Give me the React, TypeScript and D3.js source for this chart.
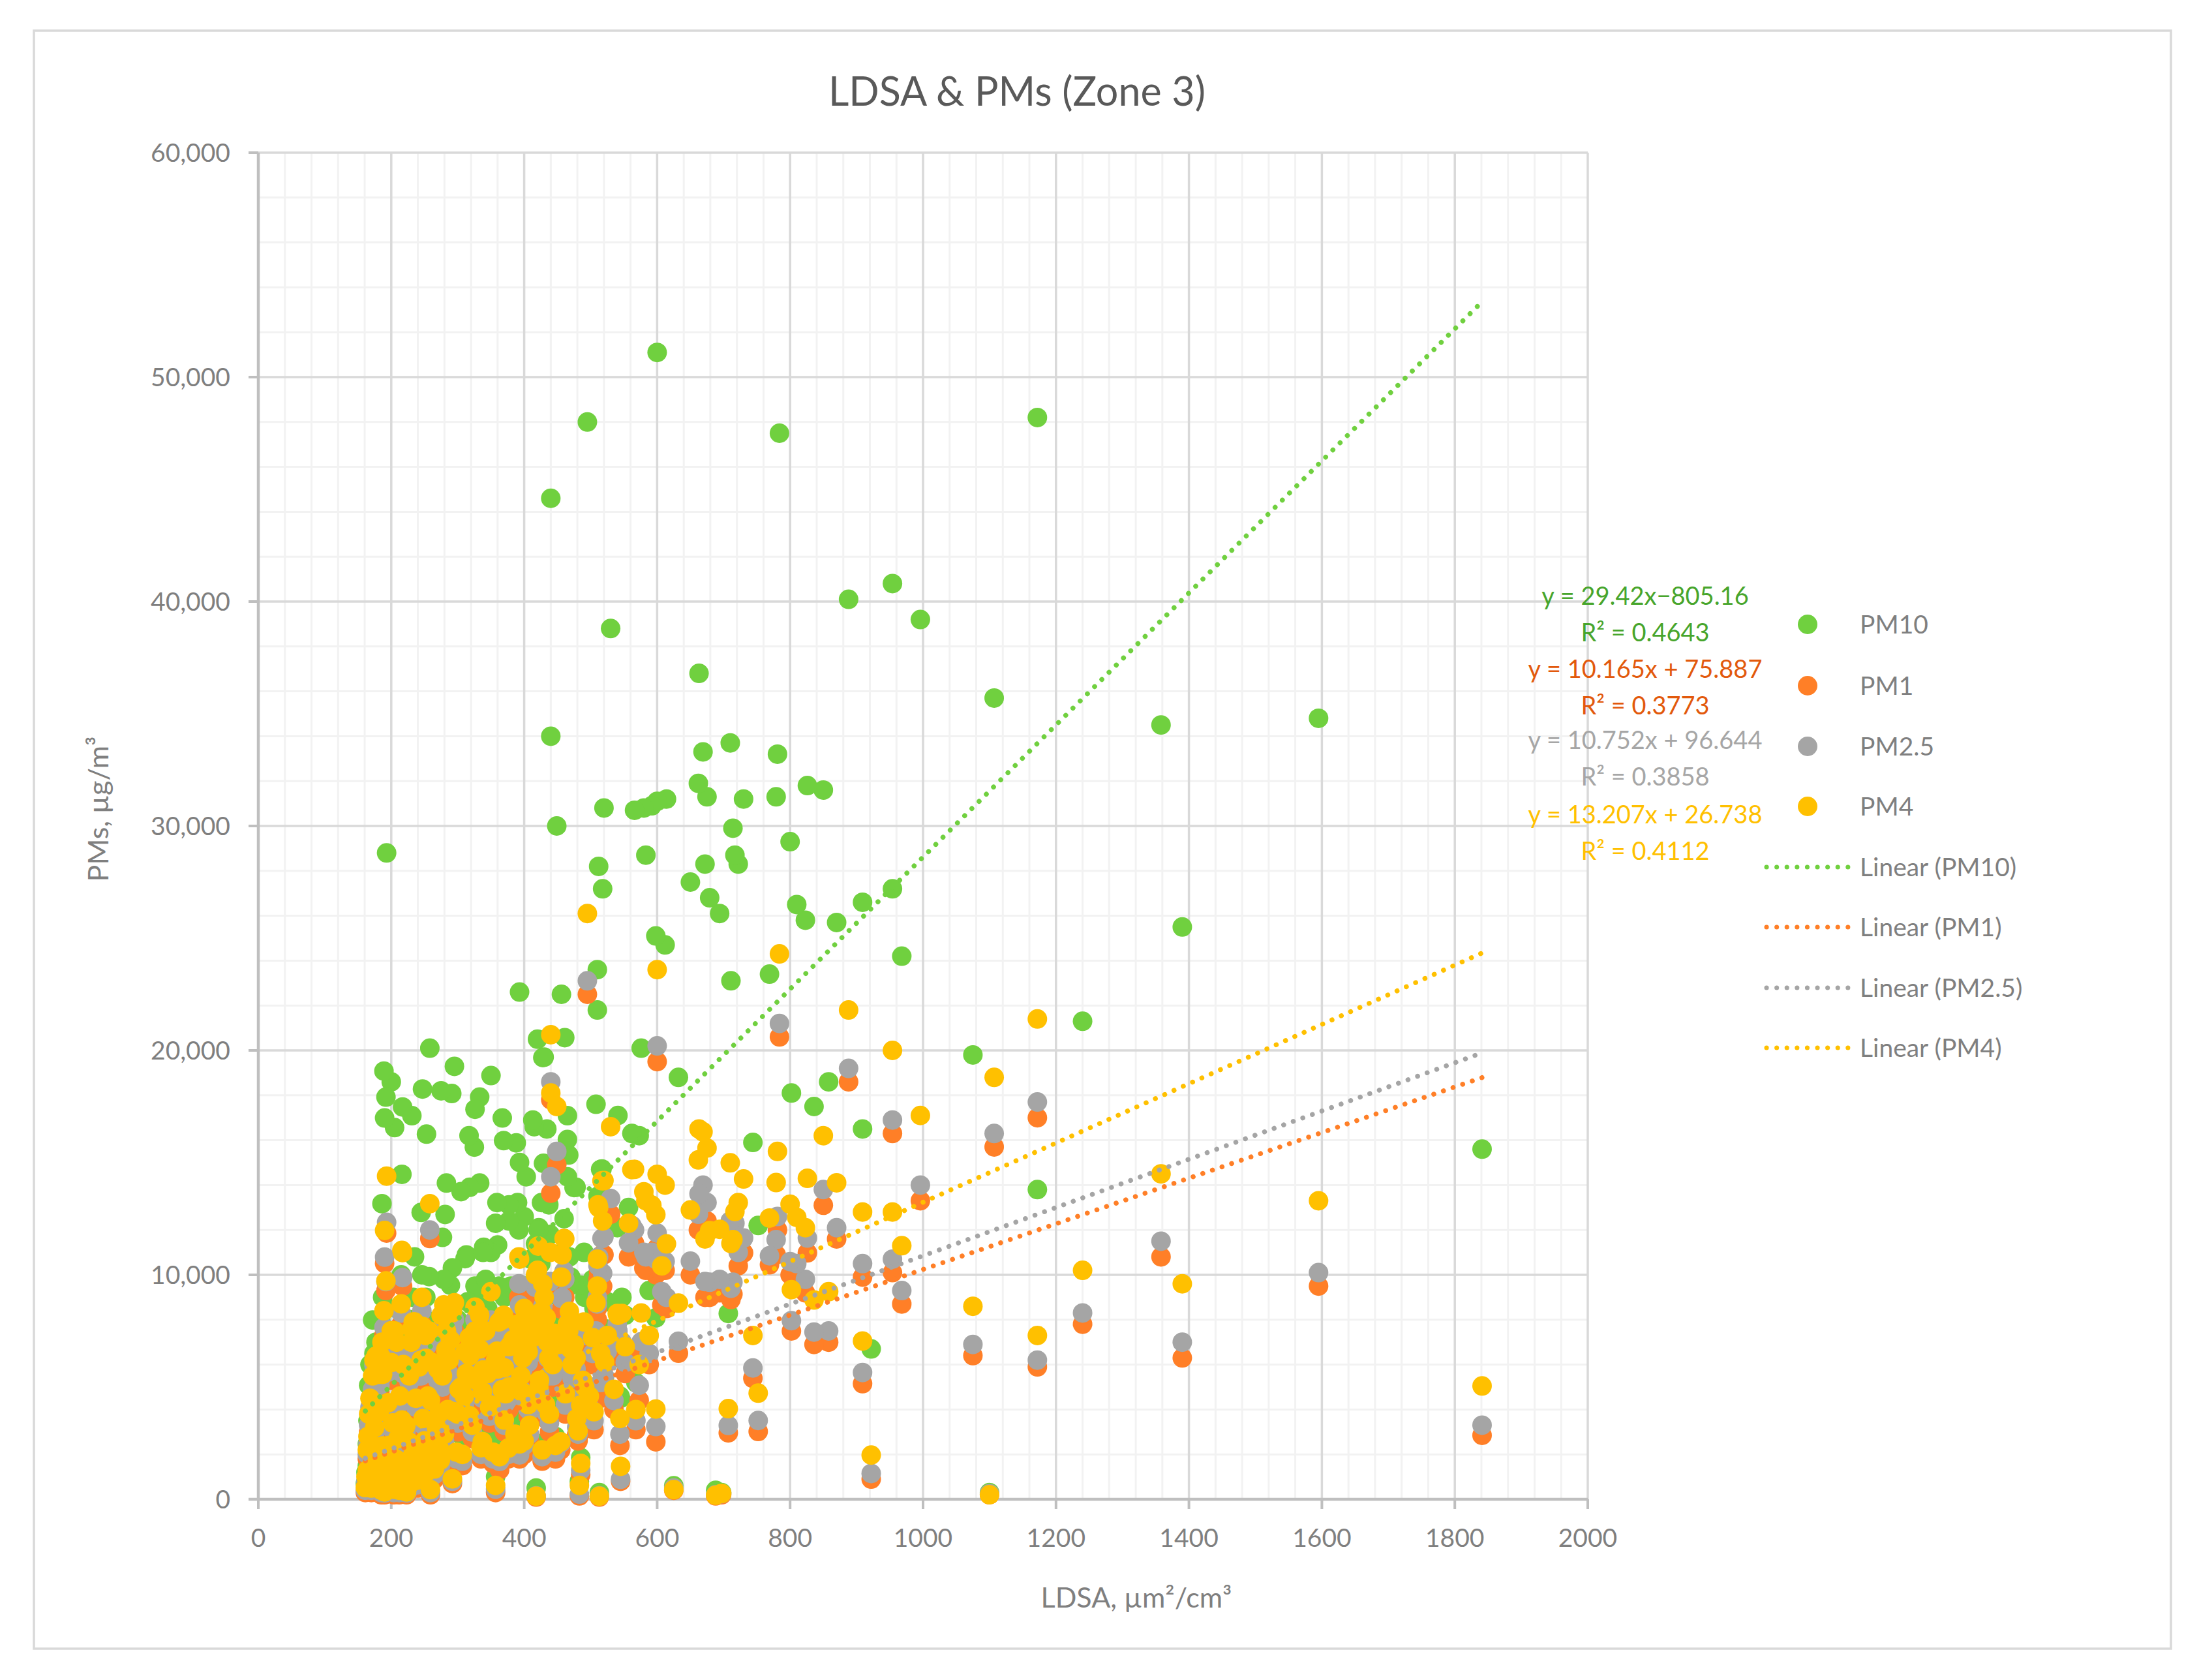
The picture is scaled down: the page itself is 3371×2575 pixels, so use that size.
import React from 'react';
import * as d3 from 'd3';

// LDSA (µm²/cm³) per sample
const LDSA = [
  // right-hand, sparse
  1841, 1595, 1390, 1358, 1240, 1172, 1172, 1107, 1100, 1075,
  996, 968, 954, 954, 922, 909, 909, 888, 870, 858,
  850, 836, 826, 823, 810, 800, 802,
  // 600-800
  784, 781, 779, 769, 752, 744, 730, 722, 717, 714,
  710, 711, 707, 697, 694, 688, 679, 675, 672, 669,
  663, 662, 650, 632, 625, 614, 612, 600, 600, 598,
  598, 607,
  // 500-600
  592, 583, 580, 576, 573, 566, 562, 557, 547, 545,
  544, 541, 540, 530, 521, 520, 518, 517, 515, 513,
  512, 511, 510, 510, 508, 505, 495,
  // 400-500
  491, 490, 485, 485, 483, 481, 478, 475, 470, 468,
  468, 467, 465, 465, 465, 461, 460, 459, 457, 456,
  455, 449, 445, 440, 440, 439, 437, 435, 434, 432,
  430, 429, 428, 426, 425, 422, 421, 420, 418, 417,
  415, 413, 410, 406, 406, 403, 400, 400,
  // 300-400
  398, 396, 393, 393, 392, 390, 388, 380, 377, 377,
  376, 370, 370, 369, 367, 367, 363, 360, 359, 357,
  357, 355, 350, 350, 345, 339, 338, 337, 337, 333,
  333, 331, 326, 326, 325, 320, 318, 318, 317, 313,
  311, 310, 305, 300,
  // 160-300
  298, 295, 292, 292, 291, 289, 285, 283, 282, 281,
  279, 277, 275, 272, 272, 268, 262, 259, 259, 258,
  257, 253, 252, 252, 250, 249, 247, 246, 245, 243,
  239, 235, 235, 233, 231, 230, 228, 226, 223, 220,
  217, 216, 216, 215, 213, 212, 207, 205, 205, 200,
  200, 198, 193, 193, 192, 190, 190, 189, 187, 187,
  186, 184, 183, 180, 177, 177, 174, 172, 171, 170,
  166, 164, 164, 162, 161,
  // dense low cluster
  165, 168, 175, 178, 182, 185, 188, 195, 197, 202,
  204, 208, 210, 214, 218, 222, 225, 227, 232, 237,
  240, 242, 248, 251, 255, 261, 265, 270, 274, 280,
  287, 294, 302, 307, 315, 322, 328, 335, 342, 348,
  353, 362, 372, 383, 386, 395, 402, 408, 412, 423,
  427, 433, 438, 443, 447, 452, 462, 472, 479, 488,
  498, 503, 525, 535, 552, 568, 588,
];

const PM10 = [
  15600, 34800, 25500, 34500, 21300, 48200, 13800, 35700, 300, 19800,
  39200, 24200, 40800, 27200, 6700, 26600, 16500, 40100, 25700, 18600,
  31600, 17500, 31800, 25800, 26500, 29300, 18100,
  47500, 33200, 31300, 23400, 12200, 15900, 31200, 28300, 28700, 29900,
  33700, 23100, 8280, 300, 26100, 400, 26800, 31300, 28300, 33300,
  36800, 31900, 27500, 18800, 600, 31200, 24700, 51100, 31100, 25100,
  8080, 11200,
  30900, 28700, 30800, 20100, 16200, 30700, 16300, 13000, 9000, 4500,
  4600, 17100, 12100, 38800, 7600, 30800, 27200, 14720, 14700, 300,
  28200, 13500, 23600, 21800, 17600, 8500, 48000,
  9000, 11000, 9540, 1860, 800, 6200, 13900, 13890, 9900, 9500,
  10800, 15340, 17090, 16030, 14370, 20570, 12500, 7500, 11000, 22500,
  4200, 30000, 9600, 44600, 34000, 11800, 13120, 8000, 16500, 5000,
  19700, 14970, 19680, 13220, 10500, 12100, 12000, 20500, 500, 11380,
  16600, 16900, 10700, 7500, 5000, 14370, 12590, 7000,
  8200, 5500, 22600, 15010, 12000, 13220, 15880, 9500, 13120, 12400,
  4000, 7000, 9000, 15980, 16990, 6500, 2500, 11330, 13220, 12300,
  1000, 7800, 18880, 11000, 8500, 11230, 11000, 7000, 6000, 17920,
  14090, 9000, 17380, 9500, 15690, 7500, 13900, 5000, 16200, 10890,
  10720, 6500, 13710, 8000,
  3800, 19290, 2000, 10310, 18080, 9540, 5500, 14090, 8000, 12690,
  9800, 11670, 18200, 5000, 3000, 4500, 2800, 900, 6000, 20100,
  9920, 16270, 8000, 9000, 3500, 2500, 18280, 10000, 12780, 1400,
  1800, 10800, 2200, 9000, 17090, 8000, 1000, 3200, 500, 1600,
  17480, 14480, 5000, 10000, 6000, 700, 2500, 16560, 1200, 18600,
  7000, 900, 28800, 1500, 17920, 16990, 600, 19080, 9000, 3000,
  13170, 8000, 6500, 1000, 7000, 2200, 6500, 7990, 4500, 800,
  5080, 2470, 1500, 1200, 700,
  3500, 6000, 4000, 1200, 4500, 500, 2000, 5500, 3000, 4000,
  600, 8500, 3500, 1800, 7500, 4200, 900, 6500, 2500, 5500,
  1200, 7000, 4200, 1500, 5200, 7500, 1800, 6800, 2200, 3500,
  7200, 4600, 6000, 2800, 8800, 4200, 6200, 3200, 9800, 5200,
  3000, 9500, 5800, 8000, 3600, 7500, 9500, 3800, 8800, 6200,
  2500, 9000, 4500, 7000, 2800, 8200, 5800, 7800, 4600, 7200,
  6000, 9800, 8800, 6300, 8200, 5200, 9300,
];

const PM1 = [
  2850, 9500, 6300, 10800, 7800, 17000, 5900, 15700, 200, 6400,
  13300, 8700, 16300, 10100, 900, 9900, 5150, 18600, 11600, 7000,
  13100, 6900, 10980, 9200, 9900, 10000, 7500,
  20600, 12000, 10900, 10450, 3020, 5390, 10980, 10400, 11300, 9140,
  11900, 8900, 2960, 200, 9200, 150, 9000, 12400, 9000, 13200,
  12800, 12000, 10000, 6510, 400, 8500, 10200, 19500, 11200, 10000,
  2560, 8660,
  10300, 10200, 10300, 6430, 4410, 11400, 11520, 10800, 6430, 800,
  2400, 6900, 7300, 12700, 4950, 10900, 9490, 10900, 4500, 100,
  10100, 9800, 8500, 8000, 7020, 3100, 22500,
  4200, 6800, 3000, 1100, 150, 2600, 5300, 5400, 5700, 5200,
  7500, 6000, 6500, 5800, 6100, 9000, 9770, 5600, 8500, 8470,
  2200, 14900, 6200, 17800, 13640, 9200, 5000, 5800, 6000, 3600,
  7500, 6700, 8000, 7800, 6500, 4000, 8900, 9000, 100, 9050,
  7000, 6600, 3600, 5600, 3700, 6200, 7500, 2000,
  5300, 4300, 8000, 1800, 9000, 6500, 6000, 5800, 5500, 4000,
  1800, 3000, 5200, 7000, 7300, 4000, 1310, 4600, 5600, 5000,
  300, 5000, 7300, 3500, 4700, 4200, 5100, 2200, 4200, 6700,
  5400, 6800, 6300, 7500, 5800, 4500, 5300, 3200, 6000, 4600,
  5900, 3800, 4300, 3000,
  1600, 7500, 700, 7000, 7000, 6000, 3300, 6700, 5800, 5000,
  7600, 4500, 7000, 3000, 1700, 2500, 1500, 200, 3600, 11620,
  6500, 6200, 5600, 6600, 2000, 1500, 6500, 7800, 5000, 700,
  1000, 6800, 1200, 6500, 6400, 6200, 400, 2000, 200, 800,
  9490, 6000, 3000, 7800, 4000, 200, 1500, 6200, 500, 6500,
  5300, 300, 11860, 900, 9300, 10510, 200, 7300, 5200, 2000,
  6000, 5600, 4790, 400, 5400, 1500, 5600, 4500, 3500, 300,
  3000, 1800, 1000, 600, 300,
  2300, 3800, 2600, 500, 3200, 200, 1200, 3600, 1900, 2800,
  200, 6200, 2100, 1000, 5200, 2700, 300, 4800, 1500, 3800,
  500, 5100, 3000, 800, 3900, 5200, 900, 4900, 1300, 2300,
  5200, 3200, 4100, 1500, 5500, 2700, 4500, 1800, 6400, 3400,
  1600, 6800, 3900, 5900, 2300, 4500, 6900, 2600, 6000, 4400,
  1700, 6900, 3000, 5000, 1800, 5800, 3800, 4900, 2900, 4300,
  3700, 6000, 6100, 4000, 5600, 3100, 6000,
];

const PM25 = [
  3300, 10100, 7000, 11500, 8300, 17700, 6200, 16300, 250, 6900,
  14000, 9300, 16900, 10700, 1150, 10500, 5650, 19200, 12100, 7500,
  13800, 7450, 11640, 9800, 10500, 10590, 7960,
  21200, 12600, 11570, 10850, 3510, 5850, 11640, 11000, 12300, 9670,
  12400, 9400, 3290, 250, 9800, 200, 9670, 13220, 9700, 14000,
  13610, 12700, 10610, 7040, 500, 9000, 10600, 20200, 11860, 10700,
  3240, 9250,
  11000, 10800, 11000, 7020, 5080, 12000, 12200, 11430, 7020, 890,
  2900, 7500, 7800, 13400, 5470, 11700, 10070, 11620, 5200, 150,
  10800, 10400, 9000, 8700, 7500, 3500, 23100,
  4700, 7300, 3500, 1300, 230, 2900, 5800, 6000, 6100, 5760,
  8000, 6500, 7000, 6400, 6600, 9800, 10160, 6100, 9000, 8950,
  2500, 15500, 6700, 18600, 14370, 9700, 5500, 6300, 6600, 3900,
  8000, 7200, 8600, 8300, 7000, 4500, 9500, 9500, 150, 9440,
  7500, 7200, 4000, 6100, 4000, 6800, 8000, 2400,
  5800, 4600, 8660, 1980, 9600, 7000, 6600, 6300, 6000, 4500,
  2000, 3300, 5600, 7600, 7800, 4400, 1690, 5000, 6000, 5500,
  450, 5400, 7990, 3900, 5100, 4700, 5500, 2400, 4500, 7300,
  5900, 7200, 6800, 8000, 6400, 4900, 5800, 3500, 6500, 5000,
  6300, 4200, 4700, 3400,
  1800, 8000, 800, 7600, 7600, 6500, 3600, 7200, 6200, 5500,
  8100, 5000, 7600, 3400, 1900, 2800, 1700, 300, 4000, 12000,
  7000, 6800, 6000, 7000, 2300, 1700, 7100, 8400, 5500, 800,
  1150, 7300, 1350, 7000, 7000, 6660, 500, 2300, 280, 900,
  9880, 6500, 3300, 8300, 4300, 300, 1650, 6800, 600, 7100,
  5700, 400, 12340, 1050, 9700, 10790, 280, 7660, 5500, 2200,
  6500, 6000, 5080, 500, 5800, 1700, 5990, 4900, 3800, 400,
  3300, 2000, 1150, 800, 400,
  2500, 4100, 2900, 600, 3500, 300, 1400, 3900, 2100, 3100,
  300, 6600, 2400, 1200, 5600, 3000, 400, 5200, 1700, 4100,
  650, 5500, 3300, 950, 4200, 5600, 1100, 5300, 1500, 2600,
  5600, 3500, 4500, 1700, 6000, 3000, 4900, 2000, 6900, 3700,
  1800, 7300, 4300, 6400, 2600, 4900, 7500, 2900, 6500, 4800,
  1900, 7400, 3400, 5500, 2100, 6300, 4200, 5400, 3200, 4700,
  4100, 6500, 6600, 4400, 6100, 3500, 6500,
];

const PM4 = [
  5050, 13300, 9600, 14500, 10200, 21400, 7300, 18800, 200, 8600,
  17100, 11300, 20000, 12800, 1970, 12800, 7050, 21800, 14100, 9250,
  16200, 8880, 14300, 12100, 12560, 13150, 9340,
  24300, 15500, 14110, 12530, 4730, 7300, 14270, 13220, 12820, 11570,
  14990, 11400, 4040, 260, 12030, 180, 11970, 15650, 11600, 16370,
  16500, 15120, 12890, 8740, 430, 11380, 14000, 23600, 14480, 12680,
  4020, 10400,
  13100, 13300, 13700, 8300, 6000, 14700, 14690, 12300, 8280, 1470,
  3600, 8200, 8280, 16600, 6100, 14200, 12400, 14190, 6500, 140,
  13000, 13120, 10700, 9500, 8760, 3900, 26100,
  5000, 7900, 4200, 1600, 620, 3050, 6300, 6900, 6700, 6960,
  8370, 7500, 7800, 7100, 7300, 11600, 11620, 7110, 10890, 9900,
  2560, 17500, 7400, 20700, 18100, 11000, 6300, 7000, 7400, 4220,
  9000, 7400, 9600, 8370, 7600, 5000, 11280, 10200, 140, 10000,
  8000, 7800, 4500, 6570, 4220, 7600, 8500, 2600,
  6300, 4800, 10700, 2470, 10800, 7800, 7200, 6900, 6800, 5000,
  2280, 3530, 5860, 8200, 7990, 4890, 1900, 5800, 6600, 6200,
  620, 6000, 9250, 4200, 5600, 5600, 5760, 2570, 4800, 8200,
  6700, 7510, 7500, 8560, 7200, 5400, 6400, 3720, 7200, 5600,
  6570, 4600, 5000, 3800,
  2100, 8760, 910, 8400, 8300, 7100, 4000, 7510, 6660, 6100,
  8660, 5500, 8200, 3820, 2280, 3200, 2000, 430, 4410, 13170,
  7500, 7400, 6280, 7300, 2600, 1880, 7700, 9000, 6200, 1000,
  1300, 7900, 1500, 7900, 7600, 7000, 700, 2570, 330, 1100,
  10990, 11090, 3530, 8710, 4600, 400, 1790, 7500, 800, 7510,
  6090, 600, 14400, 1200, 9730, 11980, 330, 8400, 5570, 2380,
  7000, 6380, 5570, 700, 6380, 1880, 6200, 5500, 3920, 500,
  3800, 2200, 1300, 1000, 520,
  2800, 4500, 3200, 900, 3900, 400, 1600, 4300, 2400, 3400,
  450, 7000, 2700, 1400, 6000, 3300, 600, 5500, 1950, 4500,
  850, 5900, 3600, 1150, 4600, 6100, 1350, 5800, 1750, 2900,
  6200, 3900, 4900, 2000, 6600, 3300, 5300, 2300, 7500, 4100,
  2100, 7900, 4700, 7100, 2900, 5500, 8200, 3300, 7200, 5300,
  2200, 8100, 3800, 6000, 2400, 6900, 4700, 6000, 3600, 5300,
  4600, 7200, 7300, 4900, 6800, 4000, 7300,
];

const SERIES_NAMES = ['PM10', 'PM1', 'PM2.5', 'PM4'];
const SERIES_COLORS = ['#70D03F', '#FF7F27', '#A5A5A5', '#FFC000'];
const LABEL_COLORS = ['#47A52C', '#E2590C', '#A6A6A6', '#FFC000'];

// trendlines as printed on the chart
const TREND_SLOPE = [29.42, 10.165, 10.752, 13.207];
const TREND_INTERCEPT = [-805.16, 75.887, 96.644, 26.738];
const TREND_EQUATIONS = ['y = 29.42x−805.16', 'y = 10.165x + 75.887', 'y = 10.752x + 96.644', 'y = 13.207x + 26.738'];
const TREND_R2 = ['R² = 0.4643', 'R² = 0.3773', 'R² = 0.3858', 'R² = 0.4112'];

const X_TICKS = d3.range(0, 2001, 200);
const X_MINOR = d3.range(0, 2001, 40);
const Y_TICKS = d3.range(0, 60001, 10000);
const Y_MINOR = d3.range(0, 60001, 2000);

const W = 3371;
const H = 2575;
const FONT = "Lato, 'Open Sans', sans-serif";
const TEXT_GRAY = '#7F7F7F';

const App: React.FC = () => {
  const x = d3.scaleLinear().domain([0, 2000]).range([396, 2434]);
  const y = d3.scaleLinear().domain([0, 60000]).range([2298, 234]);

  const n = Math.min(LDSA.length, PM10.length, PM1.length, PM25.length, PM4.length);
  const seriesValues = [PM10, PM1, PM25, PM4];
  const xMin = d3.min(LDSA.slice(0, n)) ?? 0;
  const xMax = d3.max(LDSA.slice(0, n)) ?? 2000;
  const fmt = d3.format(',');

  const legendX = 2771;
  const markerRows = [957, 1051, 1144, 1236];
  const lineRows = [1329, 1421, 1514, 1606];
  const eqRows = [914, 1026, 1135, 1249];

  return (
    <div style={{ position: 'absolute', left: 0, top: 0 }}>
      <svg width={W} height={H} viewBox={`0 0 ${W} ${H}`} fontFamily={FONT}>
        <rect x={0} y={0} width={W} height={H} fill="#fff" />
        <rect x={52} y={47} width={3276} height={2480} fill="none" stroke="#D9D9D9" strokeWidth={3.5} />

        {/* minor grid */}
        {X_MINOR.filter(v => v % 200 !== 0).map(v => (
          <line key={`xm${v}`} x1={x(v)} x2={x(v)} y1={y(60000)} y2={y(0)} stroke="#F2F2F2" strokeWidth={3} />
        ))}
        {Y_MINOR.filter(v => v % 10000 !== 0).map(v => (
          <line key={`ym${v}`} x1={x(0)} x2={x(2000)} y1={y(v)} y2={y(v)} stroke="#F2F2F2" strokeWidth={3} />
        ))}
        {/* major grid */}
        {X_TICKS.filter(v => v > 0).map(v => (
          <line key={`xg${v}`} x1={x(v)} x2={x(v)} y1={y(60000)} y2={y(0)} stroke="#D9D9D9" strokeWidth={3.5} />
        ))}
        {Y_TICKS.filter(v => v > 0).map(v => (
          <line key={`yg${v}`} x1={x(0)} x2={x(2000)} y1={y(v)} y2={y(v)} stroke="#D9D9D9" strokeWidth={3.5} />
        ))}

        {/* axes */}
        <line x1={x(0)} x2={x(0)} y1={y(60000)} y2={y(0)} stroke="#BFBFBF" strokeWidth={4.5} />
        <line x1={x(0) - 15} x2={x(2000)} y1={y(0)} y2={y(0)} stroke="#BFBFBF" strokeWidth={4.5} />
        {X_TICKS.map(v => (
          <line key={`xt${v}`} x1={x(v)} x2={x(v)} y1={y(0)} y2={y(0) + 15} stroke="#BFBFBF" strokeWidth={4} />
        ))}
        {Y_TICKS.map(v => (
          <line key={`yt${v}`} x1={x(0) - 15} x2={x(0)} y1={y(v)} y2={y(v)} stroke="#BFBFBF" strokeWidth={4} />
        ))}
        {X_TICKS.map(v => (
          <text key={`xl${v}`} x={x(v)} y={y(0) + 73} textAnchor="middle" fontSize={39} fill={TEXT_GRAY}>
            {v}
          </text>
        ))}
        {Y_TICKS.map(v => (
          <text key={`yl${v}`} x={353} y={y(v) + 14} textAnchor="end" fontSize={39} fill={TEXT_GRAY}>
            {fmt(v)}
          </text>
        ))}

        {/* points */}
        {seriesValues.map((vals, s) => (
          <g key={SERIES_NAMES[s]} fill={SERIES_COLORS[s]}>
            {d3.range(n).map(i => (
              <circle key={i} cx={x(LDSA[i])} cy={y(vals[i])} r={15} />
            ))}
          </g>
        ))}

        {/* trendlines */}
        {TREND_SLOPE.map((m, s) => (
          <line
            key={`tr${s}`}
            x1={x(xMin)}
            y1={y(m * xMin + TREND_INTERCEPT[s])}
            x2={x(xMax)}
            y2={y(m * xMax + TREND_INTERCEPT[s])}
            stroke={SERIES_COLORS[s]}
            strokeWidth={7.5}
            strokeLinecap="round"
            strokeDasharray="0.1 15.5"
          />
        ))}

        {/* trend equations */}
        {TREND_EQUATIONS.map((eq, s) => (
          <g key={`eq${s}`} fill={LABEL_COLORS[s]} fontSize={38} textAnchor="middle">
            <text x={2522} y={eqRows[s] + 13}>{eq}</text>
            <text x={2522} y={eqRows[s] + 69}>{TREND_R2[s]}</text>
          </g>
        ))}

        {/* legend */}
        {SERIES_NAMES.map((name, s) => (
          <g key={`lg${s}`}>
            <circle cx={legendX} cy={markerRows[s]} r={15} fill={SERIES_COLORS[s]} />
            <text x={2851} y={markerRows[s] + 14} fontSize={39} fill={TEXT_GRAY}>{name}</text>
          </g>
        ))}
        {SERIES_NAMES.map((name, s) => (
          <g key={`ll${s}`}>
            <line
              x1={2708}
              x2={2836}
              y1={lineRows[s]}
              y2={lineRows[s]}
              stroke={SERIES_COLORS[s]}
              strokeWidth={7}
              strokeLinecap="round"
              strokeDasharray="0.1 15.5"
            />
            <text x={2851} y={lineRows[s] + 14} fontSize={39} fill={TEXT_GRAY}>{`Linear (${name})`}</text>
          </g>
        ))}

        {/* titles */}
        <text x={1559} y={162} textAnchor="middle" fontSize={61} fill="#595959">
          LDSA &amp; PMs (Zone 3)
        </text>
        <text x={1742} y={2464} textAnchor="middle" fontSize={43} fill={TEXT_GRAY}>
          LDSA, µm²/cm³
        </text>
        <text
          transform={`translate(166, 1240) rotate(-90)`}
          textAnchor="middle"
          fontSize={43}
          fill={TEXT_GRAY}
        >
          PMs, µg/m³
        </text>
      </svg>
    </div>
  );
};

export default App;
